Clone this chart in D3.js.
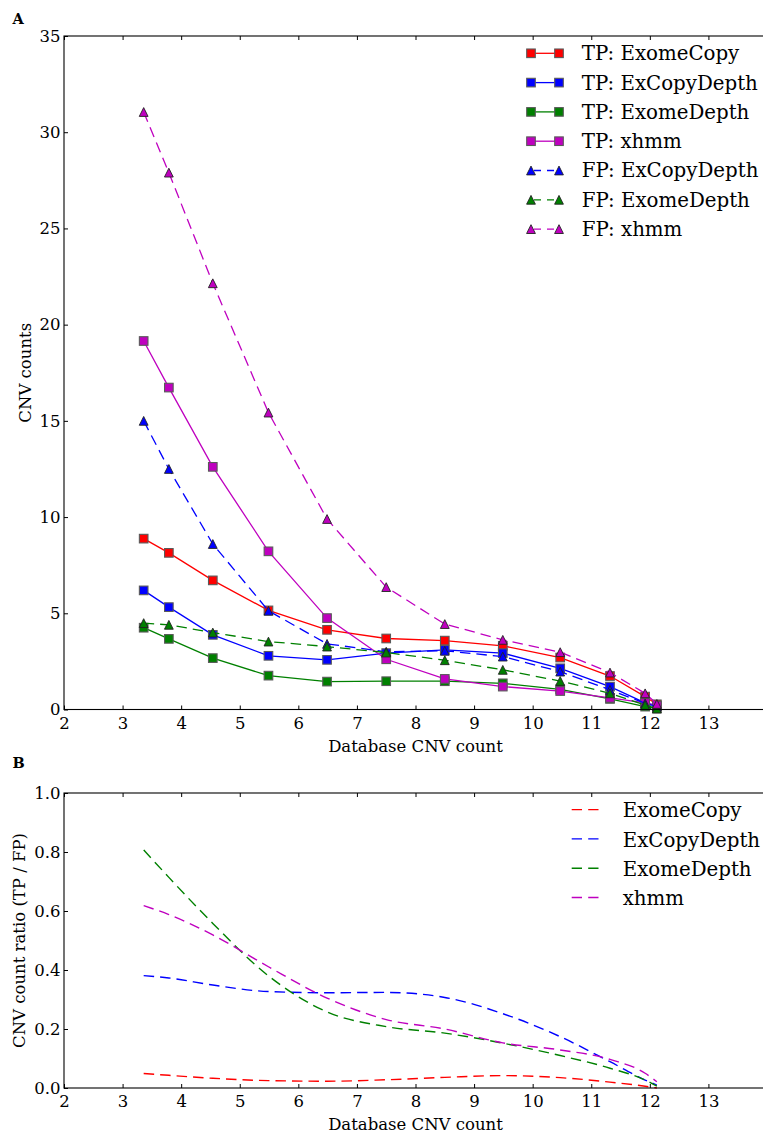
<!DOCTYPE html>
<html>
<head>
<meta charset="utf-8">
<script src="https://cdn.jsdelivr.net/npm/d3@7"></script>
<style>
  html, body { margin: 0; padding: 0; background: #fff; }
  svg { display: block; font-family: "DejaVu Serif", serif; }
</style>
</head>
<body>
<svg id="chart" width="763" height="1133"></svg>
<script>
// Database CNV count (x positions shared by every series)
const dbCount = [3.36, 3.79, 4.54, 5.49, 6.49, 7.5, 8.5, 9.49, 10.47, 11.32, 11.92, 12.12];

// Panel A: CNV counts
const tpExomeCopy   = [8.88, 8.14, 6.71, 5.15, 4.14, 3.69, 3.58, 3.31, 2.70, 1.74, 0.67, 0.27];
const tpExCopyDepth = [6.19, 5.32, 3.88, 2.79, 2.58, 2.93, 3.10, 2.93, 2.14, 1.19, 0.35, 0.20];
const tpExomeDepth  = [4.25, 3.67, 2.67, 1.76, 1.45, 1.47, 1.47, 1.36, 1.05, 0.55, 0.15, 0.05];
const tpXhmm        = [19.15, 16.73, 12.61, 8.22, 4.75, 2.61, 1.59, 1.19, 0.96, 0.60, 0.35, 0.20];
const fpExCopyDepth = [15.0, 12.5, 8.6, 5.13, 3.41, 3.0, 3.05, 2.75, 1.97, 1.02, 0.32, 0.15];
const fpExomeDepth  = [4.49, 4.40, 4.0, 3.53, 3.27, 2.96, 2.56, 2.06, 1.48, 0.84, 0.23, 0.05];
const fpXhmm        = [31.05, 27.9, 22.15, 15.43, 9.9, 6.36, 4.44, 3.62, 2.98, 1.92, 0.84, 0.29];

// Panel B: CNV count ratio (TP / FP)
const ratioExomeCopy   = [0.049, 0.043, 0.033, 0.025, 0.023, 0.028, 0.036, 0.042, 0.035, 0.020, 0.006, 0.0];
const ratioExCopyDepth = [0.381, 0.373, 0.349, 0.327, 0.323, 0.324, 0.307, 0.252, 0.174, 0.089, 0.027, 0.010];
const ratioExomeDepth  = [0.807, 0.714, 0.558, 0.380, 0.258, 0.208, 0.186, 0.152, 0.110, 0.067, 0.027, 0.006];
const ratioXhmm        = [0.618, 0.588, 0.519, 0.411, 0.305, 0.232, 0.200, 0.153, 0.129, 0.097, 0.050, 0.021];

// Tick values
const xTicks = [2, 3, 4, 5, 6, 7, 8, 9, 10, 11, 12, 13];
const countTicks = [0, 5, 10, 15, 20, 25, 30, 35];
const ratioTicks = [0.0, 0.2, 0.4, 0.6, 0.8, 1.0];

const colors = { ExomeCopy: "#ff0000", ExCopyDepth: "#0000ff", ExomeDepth: "#008000", xhmm: "#bf00bf" };

const countSeries = [
  { label: "TP: ExomeCopy",   values: tpExomeCopy,   color: colors.ExomeCopy,   marker: "square",   dashed: false },
  { label: "TP: ExCopyDepth", values: tpExCopyDepth, color: colors.ExCopyDepth, marker: "square",   dashed: false },
  { label: "TP: ExomeDepth",  values: tpExomeDepth,  color: colors.ExomeDepth,  marker: "square",   dashed: false },
  { label: "TP: xhmm",        values: tpXhmm,        color: colors.xhmm,        marker: "square",   dashed: false },
  { label: "FP: ExCopyDepth", values: fpExCopyDepth, color: colors.ExCopyDepth, marker: "triangle", dashed: true },
  { label: "FP: ExomeDepth",  values: fpExomeDepth,  color: colors.ExomeDepth,  marker: "triangle", dashed: true },
  { label: "FP: xhmm",        values: fpXhmm,        color: colors.xhmm,        marker: "triangle", dashed: true }
];

const ratioSeries = [
  { label: "ExomeCopy",   values: ratioExomeCopy,   color: colors.ExomeCopy },
  { label: "ExCopyDepth", values: ratioExCopyDepth, color: colors.ExCopyDepth },
  { label: "ExomeDepth",  values: ratioExomeDepth,  color: colors.ExomeDepth },
  { label: "xhmm",        values: ratioXhmm,        color: colors.xhmm }
];

const svg = d3.select("#chart");
const TICK_FS = 16.5, LEGEND_FS = 19.8;
const DASH = "10.5,6";

const left = 64, right = 767;
const x = d3.scaleLinear().domain([2, 14]).range([left, right]);

const panelA = { top: 36, bottom: 709.5 };
const panelB = { top: 793, bottom: 1088 };
const yA = d3.scaleLinear().domain([0, 35]).range([panelA.bottom, panelA.top]);
const yB = d3.scaleLinear().domain([0, 1]).range([panelB.bottom, panelB.top]);

function drawFrame(y, panel, yTicks, fmt) {
  const g = svg.append("g");
  const styleAxis = sel => {
    sel.select(".domain").remove();
    sel.selectAll(".tick line").attr("stroke", "#000").attr("stroke-width", 1);
    sel.selectAll("text").attr("font-family", "DejaVu Serif, serif").attr("font-size", TICK_FS).attr("fill", "#000");
  };
  g.append("g").attr("transform", `translate(0,${panel.bottom})`)
    .call(d3.axisBottom(x).tickValues(xTicks).tickSize(-4).tickPadding(7.5).tickFormat(d3.format("d")))
    .call(styleAxis);
  g.append("g").attr("transform", `translate(0,${panel.top})`)
    .call(d3.axisTop(x).tickValues(xTicks).tickSize(-4).tickFormat(""))
    .call(styleAxis);
  g.append("g").attr("transform", `translate(${left},0)`)
    .call(d3.axisLeft(y).tickValues(yTicks).tickSize(-4).tickPadding(3.5).tickFormat(fmt))
    .call(styleAxis);
  g.append("g").attr("transform", `translate(${right},0)`)
    .call(d3.axisRight(y).tickValues(yTicks).tickSize(-4).tickFormat(""))
    .call(styleAxis);
  return g;
}

function drawBorder(panel) {
  svg.append("rect")
    .attr("x", left).attr("y", panel.top)
    .attr("width", right - left).attr("height", panel.bottom - panel.top)
    .attr("fill", "none").attr("stroke", "#000").attr("stroke-width", 1.1);
}

function drawMarker(g, type, cx, cy, color) {
  if (type === "square") {
    const s = 8.6;
    g.append("rect").attr("x", cx - s / 2).attr("y", cy - s / 2).attr("width", s).attr("height", s)
      .attr("fill", color).attr("stroke", "#5a5a5a").attr("stroke-width", 1.1);
  } else {
    const h = 4.4;
    g.append("path").attr("d", `M${cx},${cy - h}L${cx - h},${cy + h}L${cx + h},${cy + h}Z`)
      .attr("fill", color).attr("stroke", "#222").attr("stroke-width", 0.9);
  }
}

// ---------- Panel A ----------
drawFrame(yA, panelA, countTicks, d3.format("d"));

const lineA = d3.line().x((d, i) => x(dbCount[i])).y(d => yA(d));
countSeries.forEach(s => {
  const g = svg.append("g");
  g.append("path").datum(s.values).attr("d", lineA)
    .attr("fill", "none").attr("stroke", s.color).attr("stroke-width", 1.3)
    .attr("stroke-dasharray", s.dashed ? DASH : null);
  s.values.forEach((v, i) => drawMarker(g, s.marker, x(dbCount[i]), yA(v), s.color));
});
drawBorder(panelA);

// Legend A
const legA = svg.append("g");
countSeries.forEach((s, i) => {
  const cy = 53.3 + i * 29.3;
  legA.append("line").attr("x1", 531).attr("x2", 559).attr("y1", cy).attr("y2", cy)
    .attr("stroke", s.color).attr("stroke-width", 1.3)
    .attr("stroke-dasharray", s.dashed ? "7,6" : null).attr("stroke-dashoffset", s.dashed ? -3 : 0);
  drawMarker(legA, s.marker, 531, cy, s.color);
  drawMarker(legA, s.marker, 559, cy, s.color);
  legA.append("text").attr("x", 581.7).attr("y", cy + 6.9)
    .attr("font-size", LEGEND_FS).attr("fill", "#000").text(s.label);
});

// Axis titles A
svg.append("text").attr("x", 12.5).attr("y", 23.5).attr("font-size", 14.5).attr("font-weight", "bold").text("A");
svg.append("text").attr("x", (left + right) / 2).attr("y", 751.7).attr("text-anchor", "middle")
  .attr("font-size", TICK_FS).text("Database CNV count");
svg.append("text").attr("transform", `translate(31,${(panelA.top + panelA.bottom) / 2}) rotate(-90)`)
  .attr("text-anchor", "middle").attr("font-size", TICK_FS).text("CNV counts");

// ---------- Panel B ----------
drawFrame(yB, panelB, ratioTicks, d3.format(".1f"));

const lineB = d3.line().x((d, i) => x(dbCount[i])).y(d => yB(d)).curve(d3.curveMonotoneX);
ratioSeries.forEach(s => {
  svg.append("path").datum(s.values).attr("d", lineB)
    .attr("fill", "none").attr("stroke", s.color).attr("stroke-width", 1.4)
    .attr("stroke-dasharray", DASH);
});
drawBorder(panelB);

// Legend B
const legB = svg.append("g");
ratioSeries.forEach((s, i) => {
  const cy = 809.6 + i * 29.3;
  legB.append("line").attr("x1", 571.7).attr("x2", 598.5).attr("y1", cy).attr("y2", cy)
    .attr("stroke", s.color).attr("stroke-width", 1.4).attr("stroke-dasharray", "10.3,6.2");
  legB.append("text").attr("x", 622.7).attr("y", cy + 7.6)
    .attr("font-size", LEGEND_FS).attr("fill", "#000").text(s.label);
});

// Axis titles B
svg.append("text").attr("x", 12.5).attr("y", 767.5).attr("font-size", 14.5).attr("font-weight", "bold").text("B");
svg.append("text").attr("x", (left + right) / 2).attr("y", 1130).attr("text-anchor", "middle")
  .attr("font-size", TICK_FS).text("Database CNV count");
svg.append("text").attr("transform", `translate(25,${(panelB.top + panelB.bottom) / 2}) rotate(-90)`)
  .attr("text-anchor", "middle").attr("font-size", TICK_FS).text("CNV count ratio (TP / FP)");
</script>
</body>
</html>
